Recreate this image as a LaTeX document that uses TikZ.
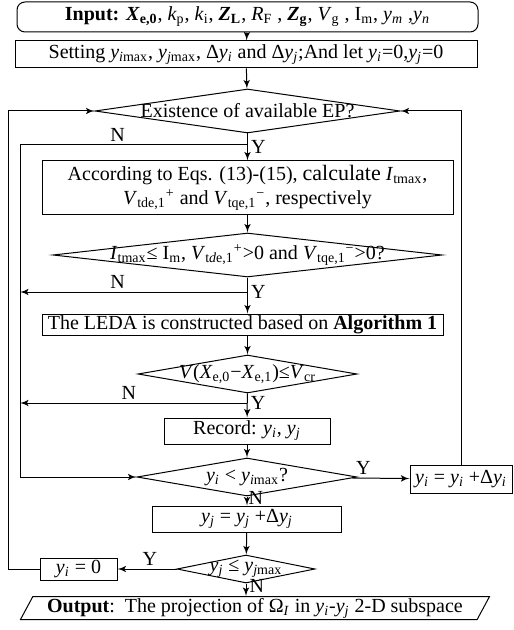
\documentclass[tikz,border=0pt]{standalone}
\usepackage{fontspec}
\setmainfont{Liberation Serif}
\usetikzlibrary{arrows, shapes.geometric}
\newcommand{\sbs}[1]{\textsubscript{#1}}
\newcommand{\sps}[1]{\textsuperscript{#1}}
\newcommand{\bi}[1]{\textbf{\textit{#1}}}
\begin{document}
\begin{tikzpicture}[x = 0.5pt, y = -0.5pt, >= latex', line width = 0.5pt, font = \fontsize{10}{12}\selectfont,
    process/.style = {draw, rectangle, inner sep = 0pt, align = center},
    terminal/.style = {process, rounded corners = 4pt},
    decision/.style = {draw, diamond, inner sep = -80pt},
    io/.style = {draw, trapezium, trapezium left angle = 60, trapezium right angle = 120, trapezium stretches = true, inner sep = 0pt},
    yn/.style = {inner sep = 1.5pt}]
  \useasboundingbox (0,0) rectangle (513,630);
  \node[terminal, minimum width = 230.5pt, minimum height = 15pt] (input) at (247.5,17)
    {\textbf{Input:} \bi{X}\sbs{\textbf{e,0}}, \textit{k}\sbs{p}, \textit{k}\sbs{i}, \bi{Z}\sbs{\textbf{L}}, \textit{R}\sbs{F} , \bi{Z}\sbs{\textbf{g}}, \textit{V}\sbs{g} , I\sbs{m}, \textit{y}\sbs{\textit{m}} ,\textit{y}\sbs{\textit{n}}};
  \node[process, minimum width = 231pt, minimum height = 13.5pt] (setting) at (246,54.5)
    {Setting \textit{y}\sbs{\textit{i}max}, \textit{y}\sbs{\textit{j}max}, Δ\textit{y}\sbs{\textit{i}} and Δ\textit{y}\sbs{\textit{j}};And let \textit{y}\sbs{\textit{i}}=0,\textit{y}\sbs{\textit{j}}=0};
  \node[decision, minimum width = 152.5pt, minimum height = 22pt] (exist) at (247.5,111) {Existence of available EP?};
  \node[process, minimum width = 205.5pt, minimum height = 27pt] (calc) at (247.5,188)
    {According to Eqs. (13)-(15), {\fontsize{11}{12}\selectfont calculate} \textit{I}\sbs{tmax},\\
     \textit{V}\sbs{tde,1}\sps{+} and \textit{V}\sbs{tqe,1}\sps{−}, respectively};
  \node[decision, minimum width = 194.5pt, minimum height = 22pt] (check) at (247.5,255)
    {\textit{I}\sbs{tmax}≤ I\sbs{m}, \textit{V}\sbs{t\textit{d}e,1}\sps{+}>0 and \textit{V}\sbs{tqe,1}\sps{−}>0?};
  \node[process, minimum width = 200.5pt, minimum height = 10.5pt] (leda) at (242.5,324.5)
    {The LEDA is constructed based on \textbf{Algorithm 1}};
  \node[decision, minimum width = 109.5pt, minimum height = 19pt] (volt) at (247.5,374)
    {\textit{V}(\textit{X}\sbs{e,0}−\textit{X}\sbs{e,1})≤\textit{V}\sbs{cr}};
  \node[process, minimum width = 83pt, minimum height = 13pt] (record) at (247,431)
    {Record: \textit{y}\sbs{\textit{i}}, \textit{y}\sbs{\textit{j}}};
  \node[decision, minimum width = 110pt, minimum height = 19pt] (ilim) at (247,477)
    {\textit{y}\sbs{\textit{i}} < \textit{y}\sbs{\textit{i}max}?};
  \node[process, minimum width = 51pt, minimum height = 14pt] (stepi) at (461,479)
    {\textit{y}\sbs{\textit{i}} = \textit{y}\sbs{\textit{i}} +Δ\textit{y}\sbs{\textit{i}}};
  \node[process, minimum width = 94.5pt, minimum height = 13pt] (stepj) at (247,519)
    {\textit{y}\sbs{\textit{j}} = \textit{y}\sbs{\textit{j}} +Δ\textit{y}\sbs{\textit{j}}};
  \node[decision, minimum width = 69pt, minimum height = 14pt] (jlim) at (246,569)
    {\textit{y}\sbs{\textit{j}} ≤ \textit{y}\sbs{\textit{j}max}};
  \node[process, minimum width = 38.5pt, minimum height = 11pt] (reset) at (78.5,569)
    {\textit{y}\sbs{\textit{i}} = 0};
  \node[io, minimum width = 235pt, minimum height = 11.5pt] (output) at (255,608)
    {\textbf{Output}:\ \ The projection of Ω\sbs{\textit{I}} in \textit{y}\sbs{\textit{i}}-\textit{y}\sbs{\textit{j}} 2-D subspace};
  \coordinate (n1) at (247,145);
  \coordinate (n2) at (247,292);
  \coordinate (n3) at (247,403);
  \coordinate (inner) at (20,145);
  \coordinate (outer) at (8,111);
  \path[->] (input) edge (setting)
            (setting) edge (exist)
            (exist) edge node[yn, right, pos = 0.5] {Y} (calc)
            (calc) edge (check)
            (check.south) edge node[yn, right, pos = 0.4] {Y} (check.south |- leda.north)
            (leda.south -| volt.north) edge (volt)
            (volt) edge node[yn, right, pos = 0.4] {Y} (record)
            (record) edge (ilim)
            (ilim) edge node[yn, above, pos = 0.2] {Y} (stepi)
            (ilim) edge node[yn, inner sep = 0.5pt, anchor = south west, pos = 1] {N} (stepj)
            (stepj) edge (jlim)
            (jlim) edge node[yn, above, pos = 0.45] {Y} (reset)
            (jlim.south) edge node[yn, anchor = south west, pos = 1] {N} (jlim.south |- output.north);
  \draw[->] (n1) -- node[yn, above, pos = 0.57] {N} (inner) |- (ilim.west);
  \draw[->] (n2) -- node[yn, above, pos = 0.57] {N} (n2 -| inner);
  \draw[->] (n3) -- node[yn, above, pos = 0.52] {N} (n3 -| inner);
  \draw[->] (stepi.north) |- (exist.east);
  \draw[->] (reset.west) -| (outer) -- (exist.west);
\end{tikzpicture}
\end{document}
